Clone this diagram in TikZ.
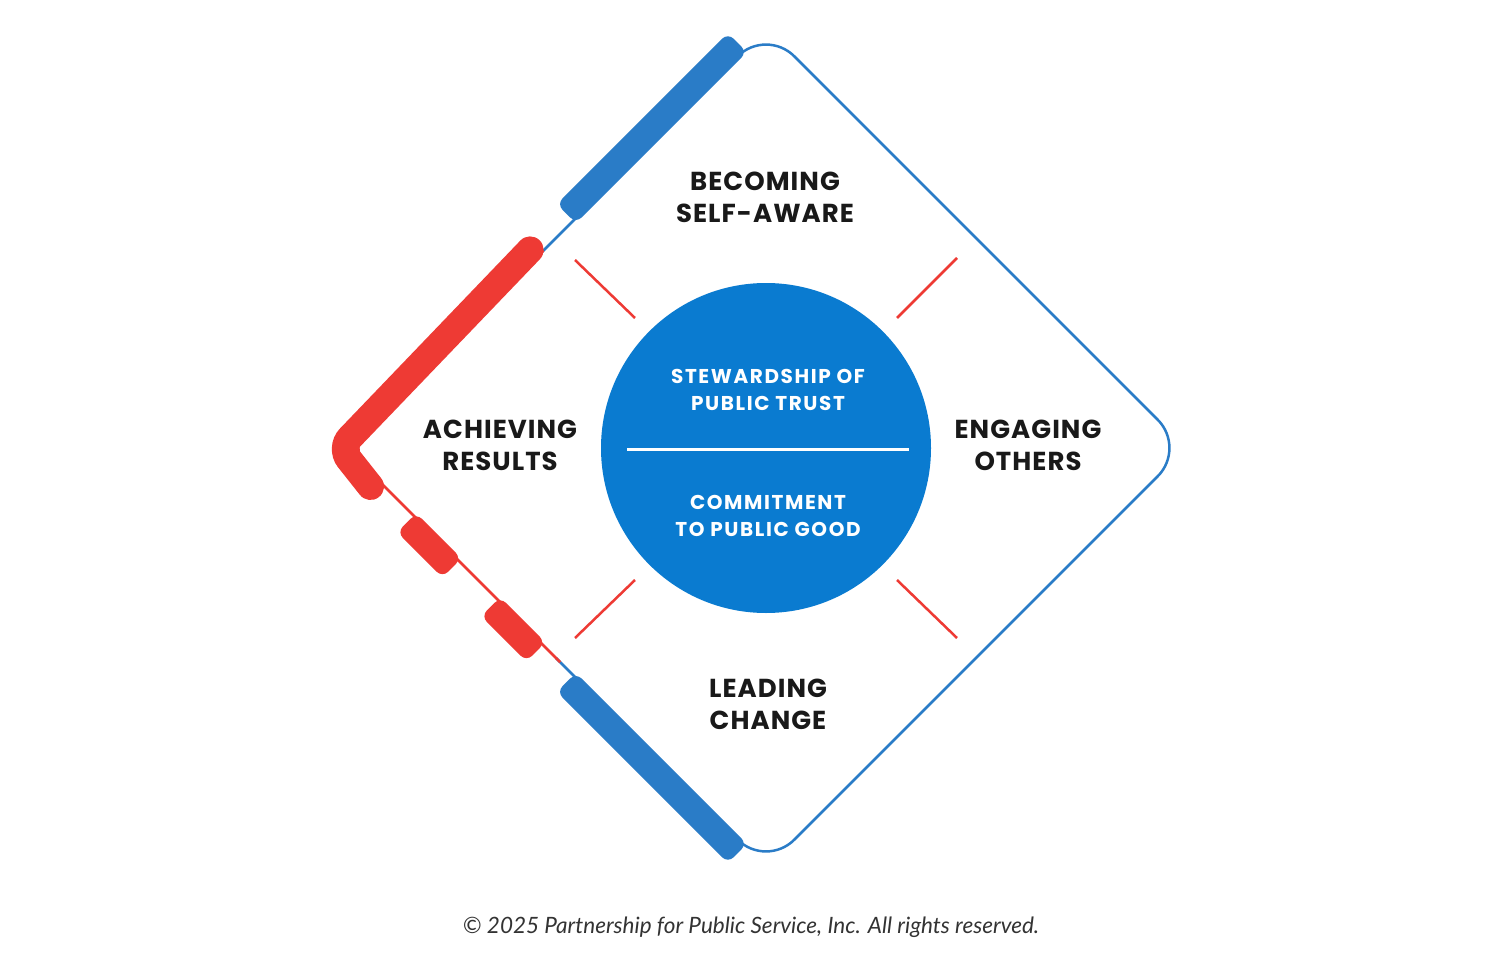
\documentclass[tikz,border=0pt]{standalone}
\usepackage{fontspec}
\setmainfont{Poppins}
\newfontfamily\foot{Lato}
\usetikzlibrary{calc}
\begin{document}
\begin{tikzpicture}[x=1pt,y=-1pt]
\definecolor{bl}{HTML}{2A7CC7}
\definecolor{cb}{HTML}{0A7BD0}
\definecolor{rd}{HTML}{EE3A34}
\tikzset{bandn/.style={rectangle,rounded corners=8pt,minimum height=27pt,inner sep=0},
 thin/.style={line width=2.5pt},
 tick/.style={rd,line width=2.5pt},
 lab/.style={font=\fontsize{26}{32}\selectfont\bfseries\addfontfeature{LetterSpace=4},align=center,text=black!90},
 wl/.style={font=\fontsize{20}{27}\selectfont\bfseries\addfontfeature{LetterSpace=8},align=center,text=white}}
\useasboundingbox (0,0) rectangle (1500,971);
\fill[white] (0,0) rectangle (1500,971);
\coordinate (L) at (346,448); \coordinate (T) at (766,28);
\coordinate (R) at (1186,448); \coordinate (B) at (766,868);
% thin diamond
\draw[thin,bl,rounded corners=40pt] ($(L)!0.46!(T)$) -- (T) -- (R) -- (B) -- ($(L)!0.5!(B)$);
\draw[thin,rd,rounded corners=30pt] ($(L)!0.47!(T)$) -- (L) -- ($(L)!0.51!(B)$);
% bands
\node[bandn,fill=bl,rotate=45,minimum width=242pt] (b1) at ($(L)!0.745!(T)+(-7,-7)$) {};
\node[bandn,fill=bl,rotate=-45,minimum width=242pt] (b2) at ($(L)!0.745!(B)+(-7,7)$) {};
\node[bandn,fill=rd,rotate=-45,minimum width=64pt] (b3) at ($(L)!0.215!(B)+(-7,7)$) {};
\node[bandn,fill=rd,rotate=-45,minimum width=64pt] (b4) at ($(L)!0.415!(B)+(-7,7)$) {};
\draw[rd,line width=27pt,line cap=round,rounded corners=14pt] ($(L)!0.455!(T)+(-7,-7)$) -- ($(L)+(-6,0)$) -- ($(L)!0.075!(B)+(-7,7)$);
% ticks
\draw[tick] (575,260) -- (635,318);
\draw[tick] (897,318) -- (957,258);
\draw[tick] (575,638) -- (635,580);
\draw[tick] (897,580) -- (957,638);
% circle
\node[circle,fill=cb,minimum size=330pt,inner sep=0] (c) at (766,448) {};
\draw[white,line width=3pt] (627,449) -- (909,449);
\node[wl] (s) at (768,390) {STEWARDSHIP OF\\PUBLIC TRUST};
\node[wl] (g) at (768,516) {COMMITMENT\\TO PUBLIC GOOD};
\node[lab] (a) at (765,197) {BECOMING\\SELF-AWARE};
\node[lab] (b) at (500,445) {ACHIEVING\\RESULTS};
\node[lab] (e) at (1028,445) {ENGAGING\\OTHERS};
\node[lab] (l) at (768,704) {LEADING\\CHANGE};
\node[font=\foot\fontsize{22.5}{26}\selectfont\itshape,text=black!80] (f) at (751,927) {© 2025 Partnership for Public Service, Inc. All rights reserved.};
\end{tikzpicture}
\end{document}
